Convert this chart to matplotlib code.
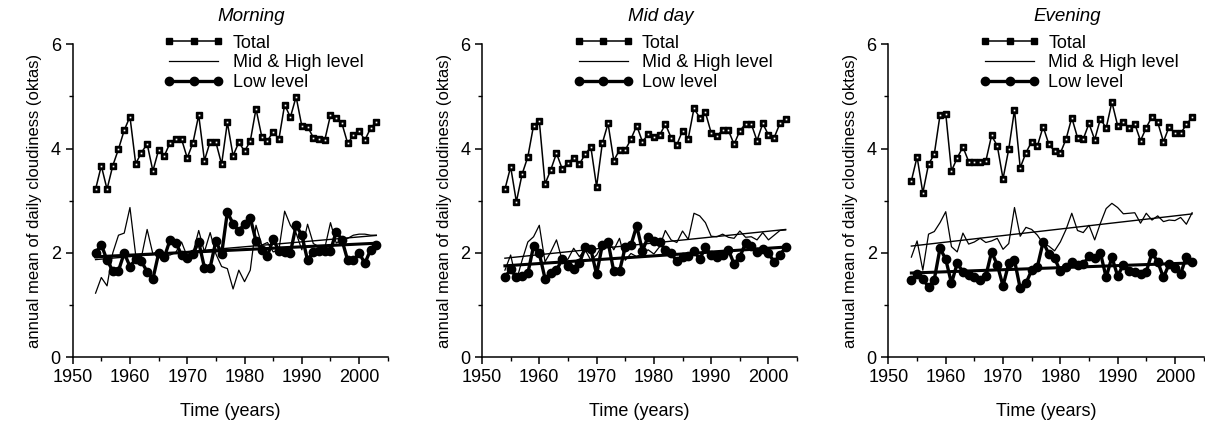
import numpy as np
import matplotlib
matplotlib.use('Agg')
import matplotlib.pyplot as plt
from matplotlib.ticker import MultipleLocator

plt.rcParams['font.family'] = ['Liberation Sans', 'DejaVu Sans']
plt.rcParams['font.size'] = 13

years = np.arange(1954, 2004)
panel_titles = ['Morning', 'Mid day', 'Evening']
series_names = ['Total', 'Mid & High level', 'Low level']

morning_total = [3.22, 3.67, 3.22, 3.67, 3.99, 4.35, 4.61, 3.71, 3.92, 4.09,
                 3.57, 3.97, 3.86, 4.11, 4.18, 4.18, 3.82, 4.11, 4.64, 3.77,
                 4.13, 4.12, 3.70, 4.50, 3.86, 4.12, 3.95, 4.14, 4.76, 4.23,
                 4.15, 4.32, 4.18, 4.84, 4.60, 4.99, 4.43, 4.42, 4.21, 4.18,
                 4.16, 4.64, 4.58, 4.48, 4.10, 4.25, 4.34, 4.16, 4.39, 4.51]
morning_mid = [1.23, 1.53, 1.37, 2.00, 2.34, 2.38, 2.87, 1.96, 1.92, 2.45,
               1.98, 2.04, 1.95, 1.96, 2.01, 2.21, 1.93, 2.00, 2.43, 2.02,
               2.39, 1.98, 1.74, 1.70, 1.31, 1.67, 1.45, 1.67, 2.53, 2.15,
               2.20, 2.02, 2.06, 2.80, 2.53, 2.38, 2.06, 2.55, 2.18, 2.12,
               2.09, 2.58, 2.19, 2.25, 2.28, 2.34, 2.36, 2.36, 2.34, 2.34]
morning_low = [2.00, 2.16, 1.86, 1.66, 1.66, 2.00, 1.74, 1.88, 1.84, 1.64,
               1.50, 1.99, 1.92, 2.25, 2.20, 1.96, 1.91, 1.98, 2.21, 1.72,
               1.72, 2.23, 1.98, 2.78, 2.56, 2.42, 2.56, 2.67, 2.23, 2.06,
               1.95, 2.26, 2.04, 2.02, 2.00, 2.53, 2.34, 1.86, 2.02, 2.04,
               2.03, 2.04, 2.41, 2.25, 1.86, 1.86, 2.00, 1.80, 2.06, 2.16]

midday_total = [3.22, 3.65, 2.98, 3.51, 3.84, 4.44, 4.53, 3.32, 3.59, 3.91,
                3.61, 3.72, 3.82, 3.70, 3.89, 4.03, 3.27, 4.10, 4.48, 3.77,
                3.97, 3.97, 4.18, 4.44, 4.13, 4.27, 4.23, 4.25, 4.47, 4.21,
                4.07, 4.34, 4.19, 4.77, 4.59, 4.69, 4.30, 4.24, 4.35, 4.35,
                4.08, 4.34, 4.47, 4.47, 4.15, 4.48, 4.26, 4.21, 4.48, 4.57]
midday_mid = [1.67, 1.96, 1.47, 1.86, 2.21, 2.31, 2.53, 1.83, 2.02, 2.25,
              1.86, 1.88, 2.09, 1.93, 2.06, 1.86, 1.96, 2.15, 2.25, 2.06,
              2.28, 1.86, 1.99, 1.93, 1.99, 2.06, 1.98, 2.12, 2.43, 2.25,
              2.20, 2.42, 2.26, 2.76, 2.71, 2.58, 2.32, 2.31, 2.36, 2.30,
              2.28, 2.42, 2.30, 2.31, 2.25, 2.39, 2.25, 2.34, 2.43, 2.44]
midday_low = [1.53, 1.69, 1.53, 1.55, 1.61, 2.13, 1.99, 1.51, 1.61, 1.67,
              1.88, 1.75, 1.70, 1.80, 2.11, 2.07, 1.59, 2.15, 2.21, 1.65,
              1.65, 2.11, 2.15, 2.52, 2.04, 2.31, 2.23, 2.21, 2.06, 2.00,
              1.84, 1.92, 1.94, 2.04, 1.88, 2.11, 1.96, 1.92, 1.96, 2.06,
              1.79, 1.92, 2.19, 2.13, 2.02, 2.07, 1.99, 1.83, 1.96, 2.11]

evening_total = [3.38, 3.84, 3.15, 3.70, 3.89, 4.64, 4.67, 3.57, 3.82, 4.03,
                 3.75, 3.75, 3.75, 3.76, 4.25, 4.05, 3.42, 3.99, 4.74, 3.63,
                 3.92, 4.13, 4.05, 4.42, 4.08, 3.95, 3.91, 4.18, 4.59, 4.21,
                 4.18, 4.48, 4.17, 4.57, 4.39, 4.89, 4.44, 4.50, 4.40, 4.47,
                 4.15, 4.40, 4.61, 4.50, 4.13, 4.42, 4.29, 4.29, 4.46, 4.60]
evening_mid = [1.92, 2.23, 1.67, 2.36, 2.41, 2.58, 2.79, 2.12, 2.02, 2.38,
               2.17, 2.21, 2.28, 2.20, 2.23, 2.28, 2.07, 2.18, 2.87, 2.32,
               2.49, 2.45, 2.34, 2.18, 2.13, 2.04, 2.21, 2.45, 2.76, 2.43,
               2.39, 2.53, 2.25, 2.57, 2.85, 2.95, 2.87, 2.75, 2.76, 2.77,
               2.57, 2.76, 2.63, 2.71, 2.60, 2.63, 2.62, 2.68, 2.55, 2.77]
evening_low = [1.48, 1.60, 1.51, 1.34, 1.49, 2.09, 1.88, 1.42, 1.80, 1.64,
               1.58, 1.53, 1.48, 1.56, 2.02, 1.77, 1.37, 1.80, 1.86, 1.32,
               1.42, 1.67, 1.74, 2.21, 1.98, 1.90, 1.65, 1.74, 1.83, 1.77,
               1.78, 1.94, 1.90, 2.00, 1.53, 1.92, 1.56, 1.77, 1.66, 1.64,
               1.60, 1.64, 2.00, 1.83, 1.53, 1.79, 1.72, 1.60, 1.93, 1.83]

panels = [(morning_total, morning_mid, morning_low),
          (midday_total, midday_mid, midday_low),
          (evening_total, evening_mid, evening_low)]

fig = plt.figure(figsize=(12.05, 4.28), dpi=100)
lefts = [0.0603, 0.4, 0.7373]

for i, (total, mid, low) in enumerate(panels):
    ax = fig.add_axes([lefts[i], 0.165, 0.2615, 0.732])

    ax.plot(years, total, '-s', color='k', lw=1.1, ms=4, mfc='k', mec='k',
            label=series_names[0])
    ax.plot(years, total, 's', color='w', ms=1.2, mew=0)
    ax.plot(years, mid, '-', color='k', lw=0.9, label=series_names[1])
    ax.plot(years, low, '-o', color='k', lw=2.4, ms=6, label=series_names[2])

    # linear trends
    p = np.polyfit(years, mid, 1)
    ax.plot(years, np.polyval(p, years), '-', color='k', lw=1.0)
    p = np.polyfit(years, low, 1)
    ax.plot(years, np.polyval(p, years), '-', color='k', lw=2.2)

    ax.set_xlim(1950, 2005)
    ax.set_ylim(0, 6)
    ax.xaxis.set_major_locator(MultipleLocator(10))
    ax.xaxis.set_minor_locator(MultipleLocator(5))
    ax.yaxis.set_major_locator(MultipleLocator(2))
    ax.yaxis.set_minor_locator(MultipleLocator(1))
    ax.spines['top'].set_visible(False)
    ax.spines['right'].set_visible(False)
    for s in ['left', 'bottom']:
        ax.spines[s].set_linewidth(1.1)
    ax.tick_params(which='major', direction='out', length=5, width=1.1,
                   labelsize=13)
    ax.tick_params(which='minor', direction='out', length=3, width=1.0)
    ax.set_xlabel('Time (years)', fontsize=13, labelpad=12)
    ax.set_ylabel('annual mean of daily cloudiness (oktas)', fontsize=12,
                  labelpad=6)

    ax.text(0.566, 1.087, panel_titles[i], transform=ax.transAxes,
            ha='center', va='center', fontsize=13.5, style='italic')

    h, l = ax.get_legend_handles_labels()
    ax.legend(h, l, loc='upper left', bbox_to_anchor=(0.29, 1.03),
              frameon=False, handlelength=3.3, handletextpad=0.5,
              labelspacing=0.15, borderpad=0, borderaxespad=0,
              fontsize=13, numpoints=3)

fig.savefig('out.png', dpi=100)
